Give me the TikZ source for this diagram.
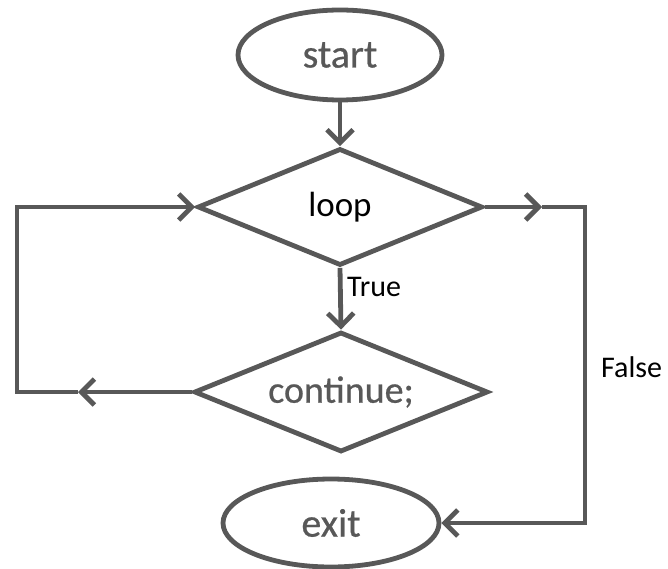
\documentclass[tikz,border=0pt]{standalone}
\usepackage{fontspec}
\setmainfont{Carlito}
\newfontfamily\boldish[FakeBold=0.6]{Carlito}
\usetikzlibrary{shapes.geometric,arrows.meta}
\definecolor{linegray}{HTML}{585858}
\begin{document}
\begin{tikzpicture}[x=1pt,y=-1pt,
  flowline/.style={draw=linegray,line width=4.8pt},
  arr/.style={flowline,-{Straight Barb[length=13pt,width=26pt,line width=4.8pt]}},
  term/.style={ellipse,draw=linegray,line width=4.8pt,inner sep=0pt,text=linegray},
  decision/.style={diamond,draw=linegray,line width=4.8pt,inner sep=0pt,shape aspect=2.4},
  lbl/.style={inner sep=0pt,anchor=west,font=\fontsize{30}{32}\selectfont,text=black}
]
\useasboundingbox (0,0) rectangle (668,569);
\node[term,minimum width=204pt,minimum height=90pt,font=\boldish\fontsize{40}{42}\selectfont] (start) at (340,55) {start};
\node[decision,minimum width=285pt,minimum height=117pt,font=\fontsize{35}{37}\selectfont,text=black] (loop) at (340,207) {loop};
\node[decision,minimum width=294pt,minimum height=120pt,font=\boldish\fontsize{38}{40}\selectfont,text=linegray] (cont) at (341,392) {continue;};
\node[term,minimum width=216pt,minimum height=88pt,font=\boldish\fontsize{40}{42}\selectfont] (exit) at (331,523) {exit};
\node[lbl] (true) at (347,287) {True};
\node[lbl] (false) at (601,367) {False};
\coordinate (la) at (78,392);
\coordinate (lc) at (17,392);
\coordinate (ltop) at (17,207);
\coordinate (ra) at (542,207);
\coordinate (rc) at (585,207);
\coordinate (rb) at (585,523);
\draw[arr] (start.south) -- (loop.north);
\draw[arr] (loop.south) -- (cont.north);
\draw[arr] (cont.west) -- (la);
\draw[arr,line join=miter] (la) -- (lc) -- (ltop) -- (loop.west);
\draw[arr] (loop.east) -- (ra);
\draw[arr,line join=miter] (ra) -- (rc) -- (rb) -- (exit.east);
\end{tikzpicture}
\end{document}
